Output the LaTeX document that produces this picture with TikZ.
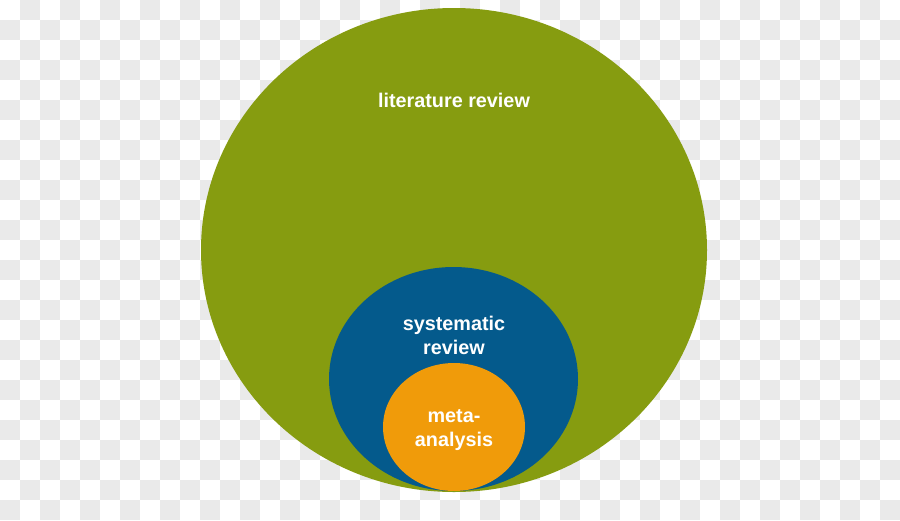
\documentclass[tikz,border=0pt]{standalone}
\usepackage{fontspec}
\setmainfont{Liberation Sans}
\usetikzlibrary{shapes.geometric}
\definecolor{litgreen}{RGB}{134,156,16}
\definecolor{sysblue}{RGB}{4,90,140}
\definecolor{metaorange}{RGB}{240,155,10}
\definecolor{checkgray}{RGB}{234,234,234}
\tikzset{
  blob/.style={ellipse, inner sep=0pt, draw=none},
  lbl/.style={text=white, font=\bfseries\fontsize{19.8}{24}\selectfont, align=center, inner sep=0pt}
}
\begin{document}
\begin{tikzpicture}[x=1pt,y=-1pt]
\useasboundingbox (0,0) rectangle (900,520);
\fill[white] (0,0) rectangle (900,520);
\foreach \i in {0,...,44}{
  \foreach \j in {0,...,25}{
    \pgfmathparse{int(mod(\i+\j,2))}
    \ifnum\pgfmathresult=1\relax \fill[checkgray] (\i*20,\j*20) rectangle ++(20,20);\fi
  }
}
\node[blob, fill=litgreen, minimum width=506pt, minimum height=484pt] (lit) at (454,250) {};
\node[blob, fill=sysblue, minimum width=249pt, minimum height=224pt] (sys) at (453.5,379) {};
\node[blob, fill=metaorange, minimum width=142pt, minimum height=128pt] (meta) at (454,427) {};
\node[lbl] (litlbl) at (454,100.5) {literature review};
\node[lbl] (syslbl) at (454,335) {systematic\\review};
\node[lbl] (metalbl) at (454,430.5) {meta-\\analysis};
\end{tikzpicture}
\end{document}
